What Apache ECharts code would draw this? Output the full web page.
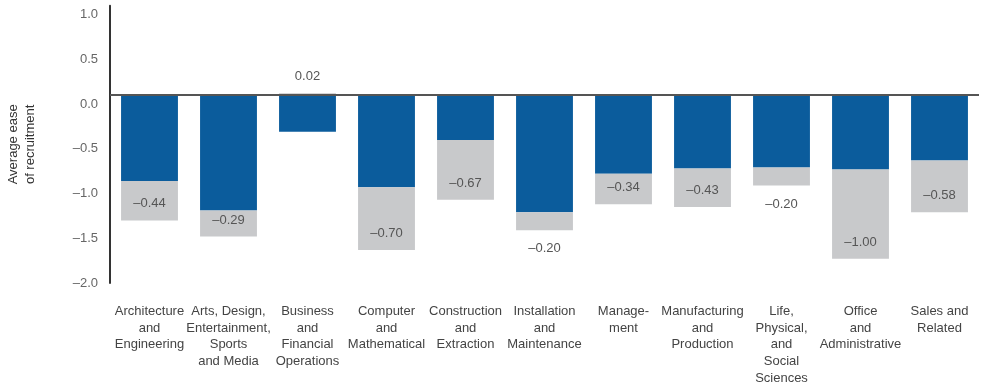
<!DOCTYPE html>
<html><head><meta charset="utf-8">
<script src="https://cdn.jsdelivr.net/npm/echarts@6/dist/echarts.min.js"></script>
<style>html,body{margin:0;padding:0;background:#fff}#c{width:983px;height:388px}</style>
</head><body><div id="c"></div>
<script>
var categories = ["Architecture\nand\nEngineering","Arts, Design,\nEntertainment,\nSports\nand Media","Business\nand\nFinancial\nOperations","Computer\nand\nMathematical","Construction\nand\nExtraction","Installation\nand\nMaintenance","Manage-\nment","Manufacturing\nand\nProduction","Life,\nPhysical,\nand\nSocial\nSciences","Office\nand\nAdministrative","Sales and\nRelated"];
var baseValues = [-0.96, -1.29, -0.41, -1.03, -0.50, -1.31, -0.88, -0.82, -0.81, -0.83, -0.73];
var changeValues = [-0.44, -0.29, 0.02, -0.70, -0.67, -0.20, -0.34, -0.43, -0.20, -1.00, -0.58];
var yTicks = [-2.0, -1.5, -1.0, -0.5, 0.0, 0.5, 1.0];

function fmt(v){ var s = Math.abs(v).toFixed(2); return (v < 0 ? '\u2013' : '') + s; }
var labelFont = {fontFamily:'Liberation Sans', fontSize:13, color:'#555'};
var changeData = changeValues.map(function(v){
  var lab;
  if (v > 0) lab = Object.assign({show:true, position:'top', distance:10}, labelFont);
  else if (Math.abs(v) < 0.25) lab = Object.assign({show:true, position:'bottom', distance:12}, labelFont);
  else lab = Object.assign({show:true, position:'insideBottom', distance:10}, labelFont);
  lab.formatter = function(p){ return fmt(p.value); };
  return {value:v, label:lab};
});

var chart = echarts.init(document.getElementById('c'), null, {renderer:'canvas'});
chart.setOption({
  animation:false,
  backgroundColor:'#fff',
  grid:{left:110, right:4, top:5.7, bottom:105, containLabel:false, outerBoundsMode:'none'},
  xAxis:{type:'category', data:categories, position:'bottom',
    axisLine:{show:false, onZero:false}, axisTick:{show:false},
    axisLabel:{interval:0, margin:20, fontFamily:'Liberation Sans', fontSize:13, lineHeight:16.7, color:'#444', verticalAlign:'top'}},
  yAxis:{type:'value', min:-2.1, max:1.0,
    name:'Average ease\nof recruitment', nameLocation:'middle', nameGap:71, nameRotate:90,
    nameTextStyle:{fontFamily:'Liberation Sans', fontSize:13, color:'#333', lineHeight:17},
    splitLine:{show:false}, axisTick:{show:false},
    axisLine:{show:true, lineStyle:{color:'#333', width:2}},
    axisLabel:{customValues:yTicks, margin:12, verticalAlign:'top', lineHeight:18, fontFamily:'Liberation Sans', fontSize:13, color:'#666',
      formatter:function(v){ return (v < 0 ? '\u2013' : '') + Math.abs(v).toFixed(1); }}},
  series:[
    {type:'bar', name:'base', stack:'s', data:baseValues, barCategoryGap:'28%',
      itemStyle:{color:'#0b5c9c'},
      markLine:{silent:true, symbol:'none', label:{show:false}, lineStyle:{color:'#555', width:2, type:'solid'}, data:[{yAxis:0}]}},
    {type:'bar', name:'change', stack:'s', data:changeData, itemStyle:{color:'#c8c9cb'}}
  ]
});
</script></body></html>
